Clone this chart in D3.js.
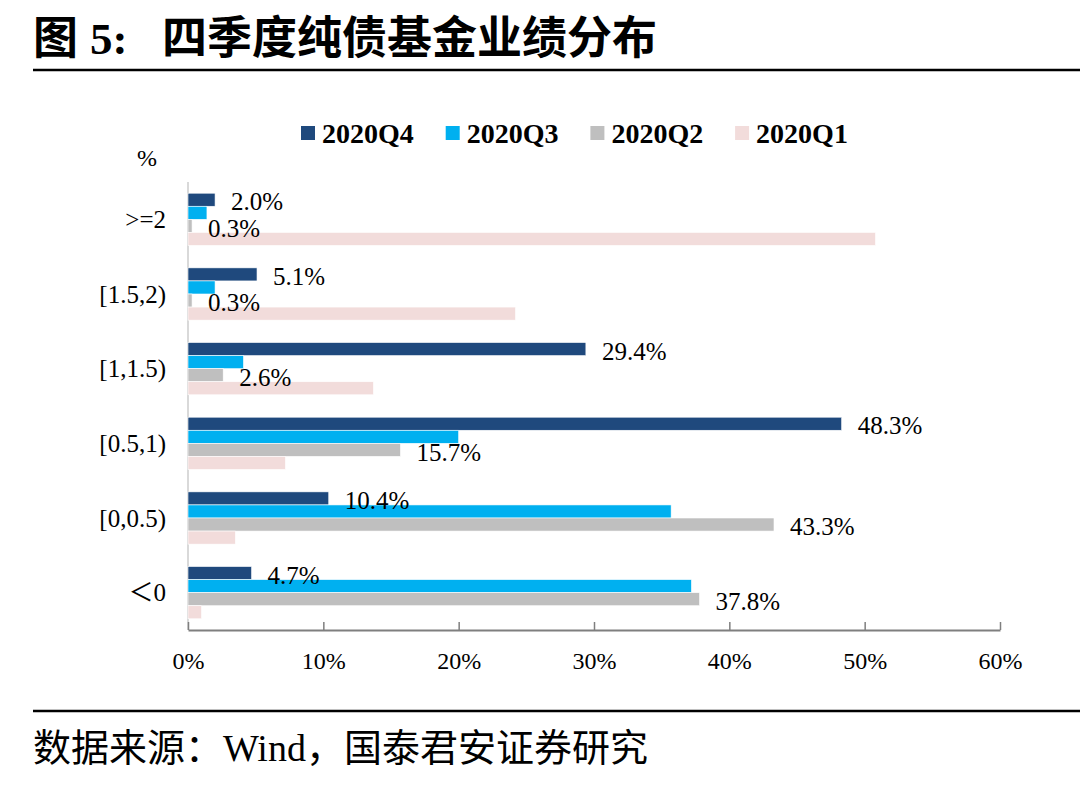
<!DOCTYPE html>
<html>
<head>
<meta charset="utf-8">
<script src="https://cdn.jsdelivr.net/npm/d3@7"></script>
<style>
  body { margin: 0; background: #fff; }
  svg { display: block; }
</style>
</head>
<body>
<svg id="chart" width="1080" height="796"></svg>
<script>
(() => {

// data
var categories = [">=2", "[1.5,2)", "[1,1.5)", "[0.5,1)", "[0,0.5)", "＜0"];
var seriesNames = ["2020Q4", "2020Q3", "2020Q2", "2020Q1"];
var q4 = [2.0, 5.1, 29.4, 48.3, 10.4, 4.7];
var q3 = [1.4, 2.0, 4.1, 20.0, 35.7, 37.2];
var q2 = [0.3, 0.3, 2.6, 15.7, 43.3, 37.8];
var q1 = [50.8, 24.2, 13.7, 7.2, 3.5, 1.0];
var xTicks = [0, 10, 20, 30, 40, 50, 60];
var labelled = ["2020Q4", "2020Q2"];

var values = {"2020Q4": q4, "2020Q3": q3, "2020Q2": q2, "2020Q1": q1};

var serif = "'Liberation Serif', 'Noto Sans CJK SC', serif";

var svg = d3.select("#chart"),
    margin = {top: 182, right: 80, bottom: 166, left: 188},
    width = +svg.attr("width") - margin.left - margin.right,
    height = +svg.attr("height") - margin.top - margin.bottom,
    g = svg.append("g").attr("transform", "translate(" + margin.left + "," + margin.top + ")");

// title + rules
var title = svg.append("text")
    .attr("y", 54)
    .attr("font-family", serif)
    .attr("font-weight", "bold")
    .attr("font-size", 45)
    .attr("fill", "#000");
title.append("tspan").attr("x", 33).text("图");
title.append("tspan").attr("x", 90).text("5:");
title.append("tspan").attr("x", 162).text("四季度纯债基金业绩分布");

svg.append("line")
    .attr("x1", 33).attr("x2", 1080)
    .attr("y1", 70).attr("y2", 70)
    .attr("stroke", "#000").attr("stroke-width", 2.5);

svg.append("line")
    .attr("x1", 33).attr("x2", 1080)
    .attr("y1", 711).attr("y2", 711)
    .attr("stroke", "#000").attr("stroke-width", 2.5);

svg.append("text")
    .attr("x", 33)
    .attr("y", 761)
    .attr("font-family", serif)
    .attr("font-size", 38)
    .attr("fill", "#000")
    .text("数据来源：Wind，国泰君安证券研究");

// scales
var x = d3.scaleLinear()
    .domain([0, 60])
    .range([0, width]);

var y = d3.scaleBand()
    .domain(categories)
    .range([0, height])
    .paddingInner(0.3)
    .paddingOuter(0.15);

var ys = d3.scaleBand()
    .domain(seriesNames)
    .range([0, y.bandwidth()]);

var z = d3.scaleOrdinal()
    .domain(seriesNames)
    .range(["#1F497D", "#00B0F0", "#BFBFBF", "#F2DCDB"]);

// left axis line
g.append("line")
    .attr("x1", 0).attr("x2", 0)
    .attr("y1", 0).attr("y2", height)
    .attr("stroke", "#D9D9D9")
    .attr("stroke-width", 2);

// bars
var groups = g.selectAll("g.cat")
  .data(categories)
  .enter().append("g")
    .attr("class", "cat")
    .attr("transform", function(d) { return "translate(0," + y(d) + ")"; });

groups.selectAll("rect")
  .data(function(d, i) {
    return seriesNames.map(function(s) { return {key: s, value: values[s][i]}; });
  })
  .enter().append("rect")
    .attr("x", 0)
    .attr("y", function(d) { return ys(d.key); })
    .attr("width", function(d) { return x(d.value); })
    .attr("height", ys.bandwidth())
    .attr("fill", function(d) { return z(d.key); })
    .attr("stroke", "#fff")
    .attr("stroke-width", 0.6);

// value labels (Q4, Q2 only)
groups.selectAll("text.val")
  .data(function(d, i) {
    return labelled.map(function(s) { return {key: s, value: values[s][i]}; });
  })
  .enter().append("text")
    .attr("class", "val")
    .attr("x", function(d) { return x(d.value) + 16; })
    .attr("y", function(d) { return ys(d.key) + ys.bandwidth() / 2 + 2; })
    .attr("dy", "0.35em")
    .attr("font-family", serif)
    .attr("font-size", 25)
    .attr("fill", "#000")
    .text(function(d) { return d.value.toFixed(1) + "%"; });

// category labels
g.selectAll("text.cat")
  .data(categories)
  .enter().append("text")
    .attr("class", "cat")
    .attr("x", -22)
    .attr("y", function(d) { return y(d) + y.bandwidth() / 2; })
    .attr("dy", "0.35em")
    .attr("text-anchor", "end")
    .attr("font-family", serif)
    .attr("font-size", 25)
    .attr("fill", "#000")
    .text(function(d) { return d; });

g.append("text")
    .attr("x", -41)
    .attr("y", -16)
    .attr("text-anchor", "middle")
    .attr("font-family", serif)
    .attr("font-size", 24)
    .text("%");

// bottom axis
var xAxis = g.append("g")
    .attr("transform", "translate(0," + height + ")")
    .call(d3.axisBottom(x).tickValues(xTicks).tickSizeInner(-8).tickSizeOuter(0).tickPadding(22)
      .tickFormat(function(d) { return d + "%"; }));

xAxis.select(".domain").attr("stroke", "#7F7F7F").attr("stroke-width", 2);
xAxis.selectAll(".tick line").attr("stroke", "#7F7F7F").attr("stroke-width", 1.5);
xAxis.selectAll(".tick text")
    .attr("font-family", serif)
    .attr("font-size", 24)
    .attr("fill", "#000");

// legend
var legend = svg.append("g")
  .selectAll("g")
  .data(seriesNames)
  .enter().append("g")
    .attr("transform", function(d, i) { return "translate(" + (301 + i * 144.7) + ",126)"; });

legend.append("rect")
    .attr("width", 14)
    .attr("height", 14)
    .attr("fill", z);

legend.append("text")
    .attr("x", 21)
    .attr("y", 7)
    .attr("dy", "0.35em")
    .attr("font-family", serif)
    .attr("font-weight", "bold")
    .attr("font-size", 28)
    .attr("fill", "#000")
    .text(function(d) { return d; });

})();
</script>
</body>
</html>
